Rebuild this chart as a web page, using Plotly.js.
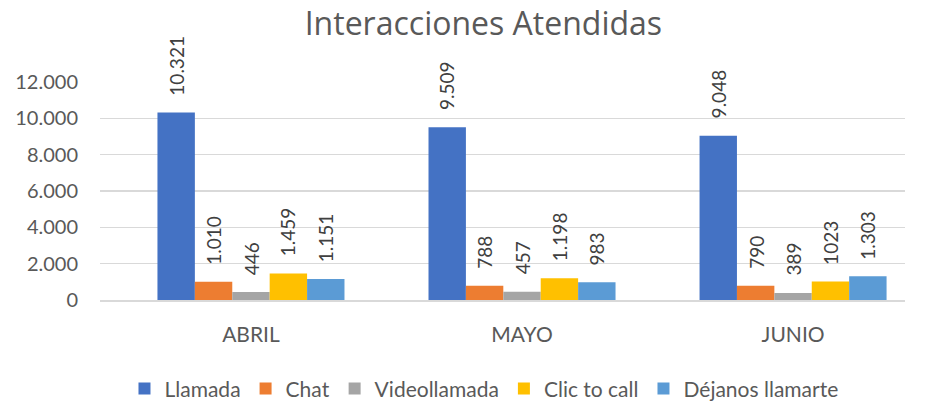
<!DOCTYPE html>
<html>
<head>
<meta charset="utf-8">
<script src="https://cdn.plot.ly/plotly-3.0.1.min.js"></script>
<style>html,body{margin:0;padding:0;background:#fff}#chart{width:935px;height:401px}</style>
</head>
<body>
<div id="chart"></div>
<script>
const months = ["ABRIL", "MAYO", "JUNIO"];
const seriesNames = ["Llamada", "Chat", "Videollamada", "Clic to call", "Déjanos llamarte"];
const llamada = [10321, 9509, 9048];
const chat = [1010, 788, 790];
const videollamada = [446, 457, 389];
const clicToCall = [1459, 1198, 1023];
const dejanos = [1151, 983, 1303];
const labelsLlamada = ["10.321", "9.509", "9.048"];
const labelsChat = ["1.010", "788", "790"];
const labelsVideo = ["446", "457", "389"];
const labelsClic = ["1.459", "1.198", "1023"];
const labelsDejanos = ["1.151", "983", "1.303"];
const yTicks = [0, 2000, 4000, 6000, 8000, 10000, 12000];
const yTickText = ["0", "2.000", "4.000", "6.000", "8.000", "10.000", "12.000"];

const colors = ["#4472C4", "#ED7D31", "#A5A5A5", "#FFC000", "#5B9BD5"];
const values = [llamada, chat, videollamada, clicToCall, dejanos];
const labels = [labelsLlamada, labelsChat, labelsVideo, labelsClic, labelsDejanos];

const bargap = 0.31;
const nS = values.length;
const barFrac = (1 - bargap) / nS;

const traces = values.map((v, i) => ({
  type: "bar",
  name: seriesNames[i],
  x: months,
  y: v,
  marker: {color: colors[i]},
  hoverinfo: "skip"
}));

const annotations = [];
values.forEach((v, i) => {
  v.forEach((val, j) => {
    annotations.push({
      x: j + (i - (nS - 1) / 2) * barFrac,
      y: val,
      xref: "x", yref: "y",
      text: labels[i][j],
      textangle: -90,
      showarrow: false,
      xanchor: "center",
      yanchor: "bottom",
      yshift: 15,
      font: {family: "Lato, sans-serif", size: 19, color: "#404040"}
    });
  });
});

const layout = {
  width: 935, height: 401,
  margin: {l: 100, r: 30, t: 82, b: 101, autoexpand: false},
  paper_bgcolor: "#fff", plot_bgcolor: "#fff",
  title: {text: "Interacciones Atendidas", x: 0.517, xanchor: "center", y: 0.94, yanchor: "middle",
    font: {family: "Open Sans, sans-serif", size: 32, color: "#595959"}},
  barmode: "group",
  bargap: bargap,
  bargroupgap: 0,
  xaxis: {
    type: "category",
    range: [-0.557, 2.413],
    showgrid: false,
    showline: true, linecolor: "#d9d9d9", linewidth: 1.5,
    ticks: "",
    ticklabelstandoff: 15,
    tickfont: {family: "Lato, sans-serif", size: 21, color: "#595959"}
  },
  yaxis: {
    range: [0, 12000],
    tickvals: yTicks, ticktext: yTickText,
    showgrid: true, gridcolor: "#d9d9d9", gridwidth: 1.5,
    zeroline: false,
    showline: false,
    ticks: "",
    ticklabelstandoff: 21,
    tickfont: {family: "Lato, sans-serif", size: 20, color: "#595959"}
  },
  showlegend: true,
  legend: {
    orientation: "h",
    x: 0.477, xanchor: "center",
    y: -0.408, yanchor: "middle",
    font: {family: "Lato, sans-serif", size: 21, color: "#595959"},
    itemwidth: 30,
    tracegroupgap: 0
  },
  annotations: annotations
};

Plotly.newPlot("chart", traces, layout, {displayModeBar: false, staticPlot: true});
</script>
</body>
</html>
